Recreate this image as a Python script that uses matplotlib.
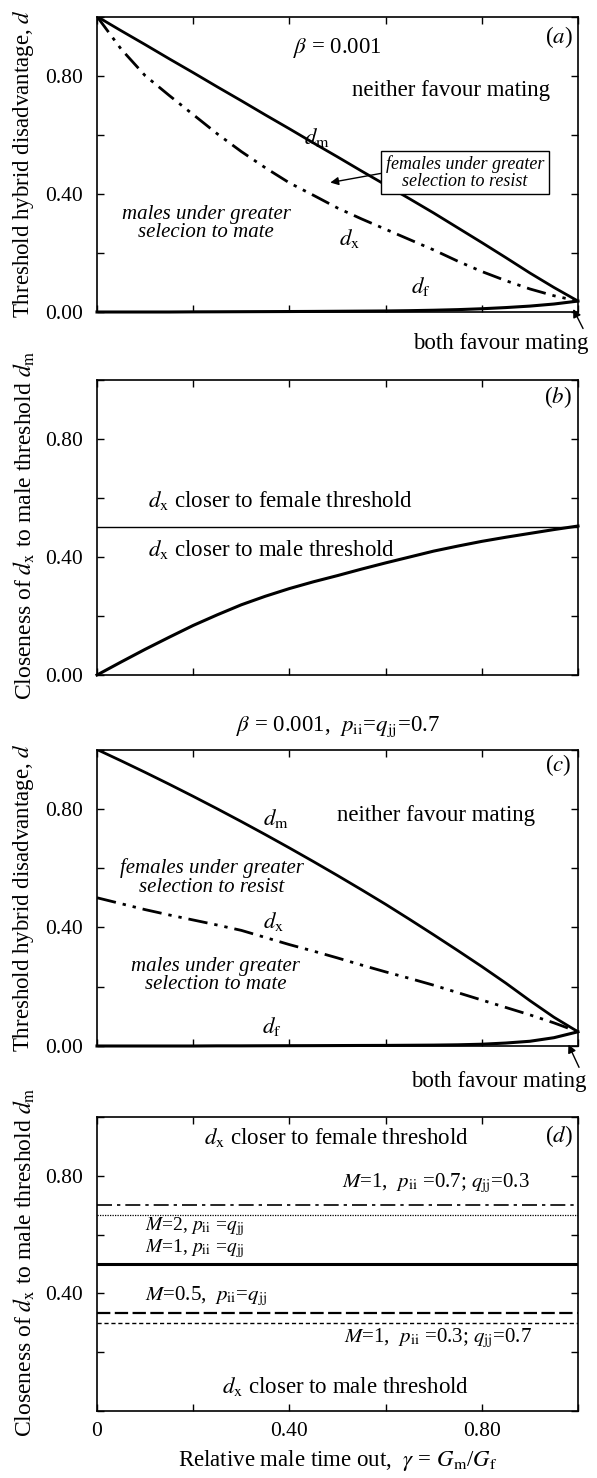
import numpy as np
import matplotlib
matplotlib.use("Agg")
import matplotlib.pyplot as plt

plt.rcParams['font.family'] = ['Liberation Serif', 'DejaVu Serif']
plt.rcParams['mathtext.fontset'] = 'stix'

# relative male time out, gamma
gamma = [0.0, 0.05, 0.1, 0.15, 0.2, 0.25, 0.3, 0.35, 0.4, 0.45, 0.5,
         0.55, 0.6, 0.65, 0.7, 0.75, 0.8, 0.85, 0.9, 0.95, 1.0]

# panel (a): thresholds, beta = 0.001
a_dm = [1.0, 0.952, 0.905, 0.857, 0.81, 0.762, 0.715, 0.667, 0.62, 0.572, 0.525,
        0.477, 0.43, 0.383, 0.335, 0.285, 0.235, 0.184, 0.132, 0.083, 0.037]
a_dx = [1.0, 0.89, 0.80, 0.733, 0.668, 0.603, 0.543, 0.488, 0.437, 0.395, 0.352,
        0.315, 0.28, 0.245, 0.21, 0.172, 0.137, 0.106, 0.078, 0.055, 0.037]
a_df = [0.0, 0.0, 0.0, 0.0, 0.0005, 0.0007, 0.001, 0.0013, 0.0016, 0.002, 0.0025,
        0.003, 0.0035, 0.0045, 0.006, 0.008, 0.011, 0.015, 0.02, 0.027, 0.037]

# panel (b): closeness of d_x to d_m
b_close = [0.0, 0.044, 0.087, 0.128, 0.168, 0.204, 0.238, 0.267, 0.293, 0.316, 0.337,
           0.359, 0.38, 0.40, 0.42, 0.437, 0.453, 0.467, 0.48, 0.493, 0.505]
b_half = [0.5] * len(gamma)

# panel (c): thresholds, beta = 0.001, p_ii = q_jj = 0.7
c_dm = [1.0, 0.962, 0.923, 0.883, 0.842, 0.80, 0.757, 0.713, 0.668, 0.622, 0.575,
        0.527, 0.478, 0.427, 0.375, 0.322, 0.268, 0.212, 0.153, 0.097, 0.048]
c_dx = [0.5, 0.48, 0.46, 0.442, 0.425, 0.408, 0.39, 0.366, 0.342, 0.32, 0.297,
        0.273, 0.25, 0.228, 0.205, 0.18, 0.155, 0.13, 0.105, 0.078, 0.048]
c_df = [0.0, 0.0, 0.0, 0.0, 0.0, 0.0005, 0.0005, 0.0008, 0.001, 0.0012, 0.0015,
        0.0018, 0.002, 0.0025, 0.003, 0.004, 0.006, 0.01, 0.016, 0.028, 0.048]

# panel (d): closeness for different M and p_ii, q_jj (flat lines)
d_gamma = [0.0, 1.0]
d_m1_07 = [0.70, 0.70]
d_m2 = [0.667, 0.667]
d_m1 = [0.50, 0.50]
d_m05 = [0.333, 0.333]
d_m1_03 = [0.30, 0.30]

yticks = [0.0, 0.2, 0.4, 0.6, 0.8, 1.0]
ylabels_abc = ['0.00', '', '0.40', '', '0.80', '']
ylabels_d = ['', '', '0.40', '', '0.80', '']
xlabels_d = ['0', '', '0.40', '', '0.80', '']

dashdotdot = (0, (7, 2.5, 1.2, 2.5, 1.2, 2.5))

fig = plt.figure(figsize=(5.97, 14.78), dpi=100)
W, H = 597, 1478

def make_ax(top_px, bot_px):
    ax = fig.add_axes([97 / W, 1 - bot_px / H, 481 / W, (bot_px - top_px) / H])
    ax.set_xlim(0, 1)
    ax.set_ylim(0, 1.0)
    ax.set_xticks(yticks)
    ax.set_yticks(yticks)
    ax.tick_params(direction='in', top=True, right=True, length=5, width=1,
                   labelsize=15.5)
    ax.tick_params(axis='y', pad=10)
    ax.tick_params(axis='x', pad=8)
    for s in ax.spines.values():
        s.set_linewidth(1.2)
    return ax

ax_a = make_ax(16.5, 312)
ax_b = make_ax(380, 675)
ax_c = make_ax(749.5, 1046)
ax_d = make_ax(1117, 1411)

for ax in (ax_a, ax_b, ax_c):
    ax.set_yticklabels(ylabels_abc)
    ax.set_xticklabels([''] * 6)
ax_d.set_yticklabels(ylabels_d)
ax_d.set_xticklabels(xlabels_d)

# ---- panel (a)
ax_a.plot(gamma, a_dm, color='black', lw=2)
ax_a.plot(gamma, a_dx, color='black', lw=2, linestyle=dashdotdot)
ax_a.plot(gamma, a_df, color='black', lw=2.2, clip_on=False)
ax_a.text(0.5, 0.895, r'$\beta$ = 0.001', fontsize=16.5, ha='center', va='center', transform=ax_a.transAxes)
ax_a.text(0.737, 0.75, 'neither favour mating', fontsize=16.5, ha='center', va='center', transform=ax_a.transAxes)
ax_a.text(0.458, 0.59, r'$d_{\rm m}$', fontsize=16.5, ha='center', va='center', transform=ax_a.transAxes)
ax_a.text(0.525, 0.25, r'$d_{\rm x}$', fontsize=16.5, ha='center', va='center', transform=ax_a.transAxes)
ax_a.text(0.673, 0.085, r'$d_{\rm f}$', fontsize=16.5, ha='center', va='center', transform=ax_a.transAxes)
ax_a.text(0.227, 0.30, 'males under greater\nselecion to mate', fontsize=15, style='italic',
          ha='center', va='center', linespacing=0.95, transform=ax_a.transAxes)
ax_a.text(0.96, 0.93, r'($a$)', fontsize=16.5, ha='center', va='center', transform=ax_a.transAxes)
ax_a.annotate('females under greater\nselection to resist', xy=(0.485, 0.438), xycoords='data',
              xytext=(0.765, 0.472), textcoords='axes fraction', fontsize=13, style='italic',
              ha='center', va='center', linespacing=0.95,
              bbox=dict(boxstyle='square,pad=0.25', fc='white', ec='black', lw=1),
              arrowprops=dict(arrowstyle='-|>', color='black', lw=1, mutation_scale=12,
                              relpos=(0, 0.5), shrinkA=0, shrinkB=0))
ax_a.annotate('both favour mating', xy=(0.99, 0.01), xycoords='data',
              xytext=(1.022, -0.105), textcoords='axes fraction', fontsize=16.5,
              ha='right', va='center', annotation_clip=False,
              arrowprops=dict(arrowstyle='-|>', color='black', lw=1, mutation_scale=12,
                              relpos=(0.98, 1.0), shrinkA=1, shrinkB=0))

# ---- panel (b)
ax_b.plot(gamma, b_half, color='black', lw=1.0)
ax_b.plot(gamma, b_close, color='black', lw=2.2, clip_on=False)
ax_b.text(0.107, 0.593, r'$d_{\rm x}$ closer to female threshold', fontsize=16.5,
          ha='left', va='center', transform=ax_b.transAxes)
ax_b.text(0.107, 0.424, r'$d_{\rm x}$ closer to male threshold', fontsize=16.5,
          ha='left', va='center', transform=ax_b.transAxes)
ax_b.text(0.958, 0.943, r'($b$)', fontsize=16.5, ha='center', va='center', transform=ax_b.transAxes)

# ---- panel (c)
ax_c.set_title(r'$\beta$ = 0.001,  $p_{\rm ii}$=$q_{\rm jj}$=0.7', fontsize=16.5, pad=13)
ax_c.plot(gamma, c_dm, color='black', lw=2)
ax_c.plot(gamma, c_dx, color='black', lw=2, linestyle=dashdotdot)
ax_c.plot(gamma, c_df, color='black', lw=2.2, clip_on=False)
ax_c.text(0.958, 0.948, r'($c$)', fontsize=16.5, ha='center', va='center', transform=ax_c.transAxes)
ax_c.text(0.704, 0.779, 'neither favour mating', fontsize=16.5, ha='center', va='center', transform=ax_c.transAxes)
ax_c.text(0.371, 0.768, r'$d_{\rm m}$', fontsize=16.5, ha='center', va='center', transform=ax_c.transAxes)
ax_c.text(0.367, 0.419, r'$d_{\rm x}$', fontsize=16.5, ha='center', va='center', transform=ax_c.transAxes)
ax_c.text(0.364, 0.065, r'$d_{\rm f}$', fontsize=16.5, ha='center', va='center', transform=ax_c.transAxes)
ax_c.text(0.239, 0.568, 'females under greater\nselection to resist', fontsize=15, style='italic',
          ha='center', va='center', linespacing=0.95, transform=ax_c.transAxes)
ax_c.text(0.247, 0.237, 'males under greater\nselection to mate', fontsize=15, style='italic',
          ha='center', va='center', linespacing=0.95, transform=ax_c.transAxes)
ax_c.annotate('both favour mating', xy=(0.98, 0.005), xycoords='data',
              xytext=(1.017, -0.121), textcoords='axes fraction', fontsize=16.5,
              ha='right', va='center', annotation_clip=False,
              arrowprops=dict(arrowstyle='-|>', color='black', lw=1, mutation_scale=12,
                              relpos=(0.97, 1.0), shrinkA=1, shrinkB=0))

# ---- panel (d)
ax_d.plot(d_gamma, d_m1_07, color='black', lw=1.2, linestyle=(0, (9, 3, 2, 3)))
ax_d.plot(d_gamma, d_m2, color='black', lw=0.9, linestyle=(0, (1, 1)))
ax_d.plot(d_gamma, d_m1, color='black', lw=2.2)
ax_d.plot(d_gamma, d_m05, color='black', lw=1.6, linestyle=(0, (6, 2)))
ax_d.plot(d_gamma, d_m1_03, color='black', lw=1.0, linestyle=(0, (3, 2)))
ax_d.text(0.498, 0.929, r'$d_{\rm x}$ closer to female threshold', fontsize=16.5,
          ha='center', va='center', transform=ax_d.transAxes)
ax_d.text(0.517, 0.083, r'$d_{\rm x}$ closer to male threshold', fontsize=16.5,
          ha='center', va='center', transform=ax_d.transAxes)
ax_d.text(0.96, 0.935, r'($d$)', fontsize=16.5, ha='center', va='center', transform=ax_d.transAxes)
ax_d.text(0.51, 0.774, r'$M$=1,  $p_{\rm ii}$ =0.7; $q_{\rm jj}$=0.3', fontsize=15,
          ha='left', va='center', transform=ax_d.transAxes)
ax_d.text(0.10, 0.628, r'$M$=2, $p_{\rm ii}$ =$q_{\rm jj}$', fontsize=14,
          ha='left', va='center', transform=ax_d.transAxes)
ax_d.text(0.10, 0.552, r'$M$=1, $p_{\rm ii}$ =$q_{\rm jj}$', fontsize=14,
          ha='left', va='center', transform=ax_d.transAxes)
ax_d.text(0.10, 0.389, r'$M$=0.5,  $p_{\rm ii}$=$q_{\rm jj}$', fontsize=15,
          ha='left', va='center', transform=ax_d.transAxes)
ax_d.text(0.514, 0.247, r'$M$=1,  $p_{\rm ii}$ =0.3; $q_{\rm jj}$=0.7', fontsize=15,
          ha='left', va='center', transform=ax_d.transAxes)
ax_d.set_xlabel(r'Relative male time out,  $\gamma$ = $G_{\rm m}$/$G_{\rm f}$', fontsize=16.5, labelpad=5)

# y labels
fig.text(24 / W, 1 - 164 / H, r'Threshold hybrid disadvantage, $d$', rotation=90,
         fontsize=16.5, ha='center', va='center')
fig.text(24 / W, 1 - 525 / H, r'Closeness of $d_{\rm x}$ to male threshold $d_{\rm m}$', rotation=90,
         fontsize=17, ha='center', va='center')
fig.text(24 / W, 1 - 898 / H, r'Threshold hybrid disadvantage, $d$', rotation=90,
         fontsize=16.5, ha='center', va='center')
fig.text(24 / W, 1 - 1262 / H, r'Closeness of $d_{\rm x}$ to male threshold $d_{\rm m}$', rotation=90,
         fontsize=17, ha='center', va='center')

fig.savefig('out.png', dpi=100)
